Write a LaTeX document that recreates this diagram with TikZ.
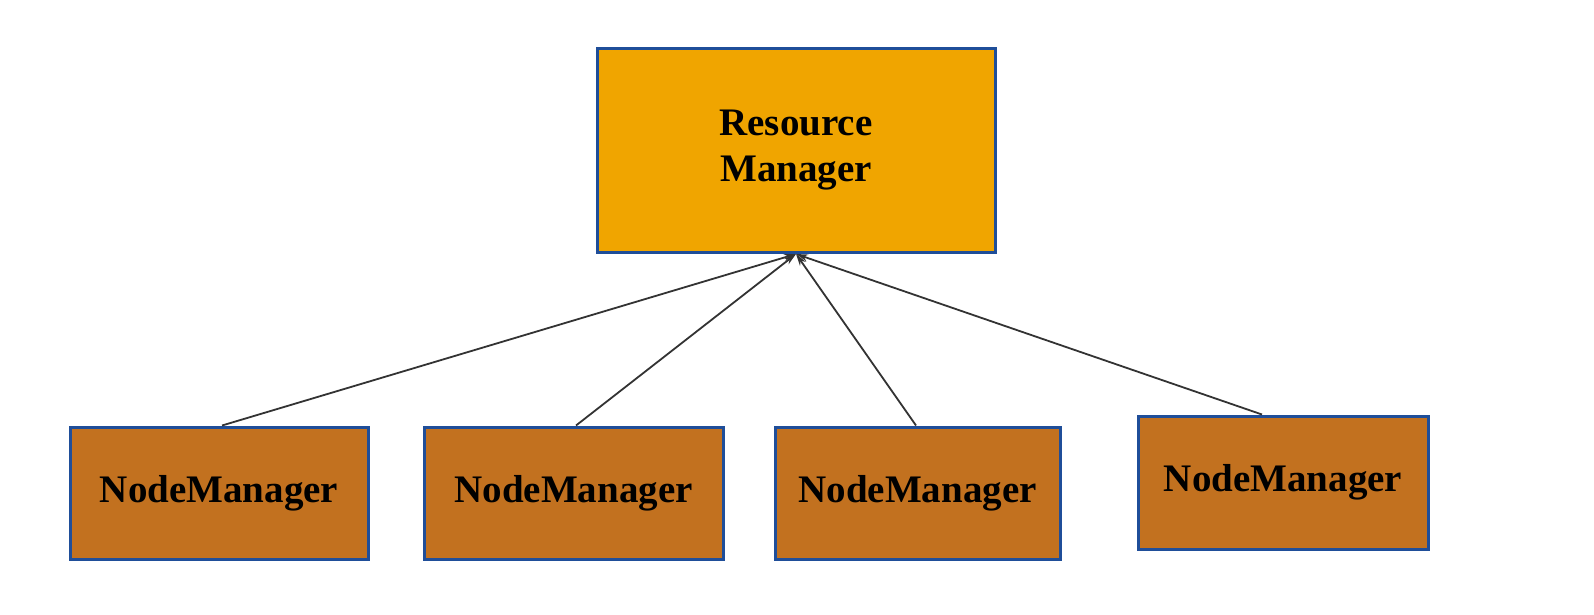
\documentclass[tikz,border=0pt]{standalone}
\usepackage{fontspec}
\setmainfont{Liberation Serif}
\usetikzlibrary{arrows.meta}
\definecolor{rmfill}{HTML}{F0A500}
\definecolor{nmfill}{HTML}{C2711F}
\definecolor{boxline}{HTML}{1F4E99}
\begin{document}
\begin{tikzpicture}[x=1pt,y=-1pt,
  box/.style={draw=boxline,line width=3pt,inner sep=0pt,font=\bfseries\fontsize{39}{46}\selectfont,text=black,align=center},
  rmbox/.style={box,fill=rmfill},
  nmbox/.style={box,fill=nmfill},
  link/.style={draw=black!80,line width=1.8pt,-{Stealth[length=12pt,width=7pt]}}]
\useasboundingbox (0,0) rectangle (1594,614);
\node[rmbox,minimum width=398pt,minimum height=204pt] (rm) at (796,150) {Resource\\Manager};
\node[nmbox,minimum width=298pt,minimum height=132pt] (n1) at (219,493) {NodeManager};
\node[nmbox,minimum width=299pt,minimum height=132pt] (n2) at (573.5,493) {NodeManager};
\node[nmbox,minimum width=285pt,minimum height=132pt] (n3) at (917.5,493) {NodeManager};
\node[nmbox,minimum width=290pt,minimum height=133pt] (n4) at (1283,482.5) {NodeManager};
\coordinate (tip) at (796,254);
\draw[link] (n1.north -| 222,0) -- (tip);
\draw[link] (n2.north -| 576,0) -- (tip);
\draw[link] (n3.north -| 916,0) -- (tip);
\draw[link] (n4.north -| 1262,0) -- (tip);
\end{tikzpicture}
\end{document}
